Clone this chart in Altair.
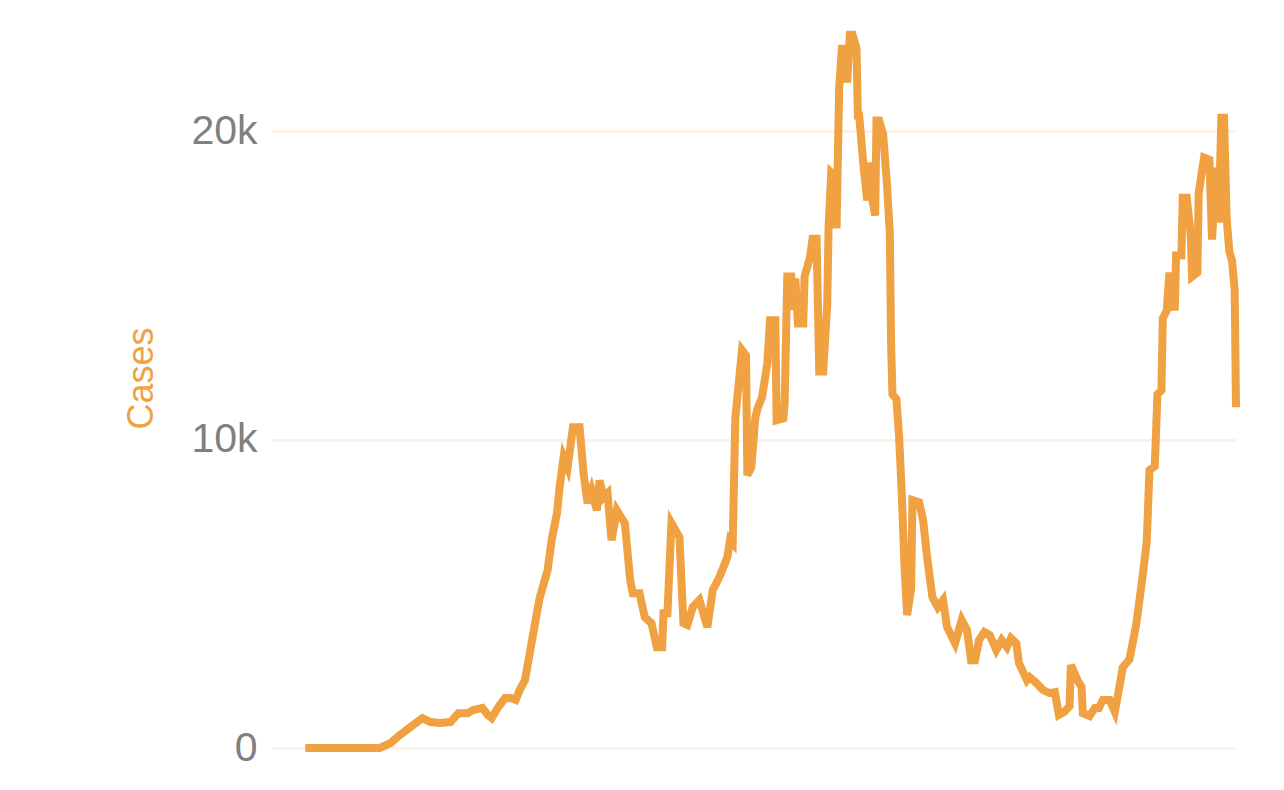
import altair as alt
import pandas as pd

days = [0, 56, 64, 71, 79, 88, 94, 101, 109, 115, 122, 126, 133, 137, 140, 145, 150, 154, 158, 161,
        165, 169, 173, 176, 182, 185, 189, 191, 194, 197, 201, 206, 209, 212, 215, 219, 221, 224, 227, 230,
        234, 240, 244, 246, 251, 255, 260, 264, 268, 269, 272, 275, 281, 284, 287, 291, 296, 302, 306, 311,
        317, 319, 321, 323, 328, 331, 332, 335, 338, 340, 343, 347, 349, 353, 354, 359, 360, 362, 365, 366,
        368, 370, 374, 375, 379, 381, 384, 386, 389, 392, 393, 395, 398, 399, 401, 403, 406, 407, 409, 411,
        414, 415, 416, 419, 422, 423, 426, 428, 429, 431, 434, 437, 439, 440, 441, 444, 446, 448, 450, 452,
        455, 456, 461, 464, 467, 471, 475, 479, 482, 488, 493, 497, 500, 503, 506, 510, 514, 519, 523, 527,
        530, 534, 536, 542, 544, 549, 554, 559, 563, 566, 570, 574, 575, 580, 583, 584, 589, 593, 596, 599,
        604, 608, 611, 614, 619, 624, 629, 632, 634, 638, 640, 643, 644, 647, 649, 653, 654, 658, 659, 662,
        665, 666, 670, 671, 675, 679, 681, 684, 686, 688, 690, 692, 694, 696, 698, 699]

cases = [0, 0, 160, 420, 680, 970, 840, 810, 840, 1130, 1130, 1230, 1300, 1070, 970, 1330, 1620, 1620, 1560, 1880,
         2200, 3180, 4150, 4860, 5770, 6740, 7610, 8460, 9430, 9100, 10400, 10400, 8910, 7940, 8360, 7710, 8680, 8130, 8260, 6740,
         7710, 7290, 5440, 5020, 5020, 4240, 4050, 3270, 3270, 4370, 4370, 7290, 6840, 4050, 3990, 4570, 4800, 3920, 5120, 5540,
         6190, 6740, 6640, 10720, 12900, 12730, 8850, 9100, 10720, 11050, 11370, 12470, 13870, 13870, 10630, 10690, 11150, 15290, 15290, 14220,
         15230, 13770, 13770, 15290, 15910, 16520, 16520, 12210, 12210, 14390, 16850, 18660, 18530, 16850, 21450, 22680, 22680, 21580, 23130, 23130,
         22680, 20510, 20510, 18990, 17760, 18990, 17760, 17270, 20350, 20350, 19890, 18210, 16690, 12990, 11470, 11310, 10080, 8230, 5930, 4310,
         5150, 8040, 7970, 7390, 6190, 4890, 4570, 4800, 3920, 3400, 4150, 3820, 2850, 2850, 3500, 3760, 3660, 3180, 3500, 3270,
         3560, 3400, 2750, 2200, 2300, 2110, 1880, 1780, 1810, 1070, 1170, 1360, 2690, 2200, 1980, 1130, 1040, 1300, 1300, 1560,
         1560, 1170, 1880, 2620, 2880, 3990, 5610, 6710, 9010, 9140, 11470, 11600, 13930, 14190, 15420, 14190, 15970, 15970, 17850, 17850,
         16650, 15290, 15420, 18010, 19150, 19080, 16490, 18820, 17040, 20440, 20440, 17170, 16100, 15810, 14870, 11050]

y_ticks = [0, 10000, 20000]

df = pd.DataFrame({"day": days, "cases": cases})

orange = "#F0A142"

chart = alt.Chart(df).mark_line(color=orange, strokeWidth=8, strokeJoin="miter").encode(
    x=alt.X("day:Q", axis=None, scale=alt.Scale(domain=[-25, 699], nice=False, zero=False)),
    y=alt.Y("cases:Q", title="Cases",
            scale=alt.Scale(domain=[0, 24000], nice=False),
            axis=alt.Axis(values=y_ticks, format="~s",
                          labelExpr="datum.value == 0 ? '0' : datum.label",
                          domain=False, ticks=False, tickSize=0,
                          labelFont="Liberation Sans", labelFontSize=41, labelColor="#808080",
                          labelPadding=15, grid=True, gridColor="#fdf1e5", gridWidth=3,
                          titleFont="Liberation Sans", titleFontSize=36, titleFontWeight="normal",
                          titleColor=orange, titlePadding=30)),
).properties(
    width=964, height=740, autosize="none",
    padding={"left": 264, "top": 0, "right": 30, "bottom": 30},
).configure_view(stroke=None)

chart.save("out.html", embed_options={"renderer": "svg", "actions": False})
